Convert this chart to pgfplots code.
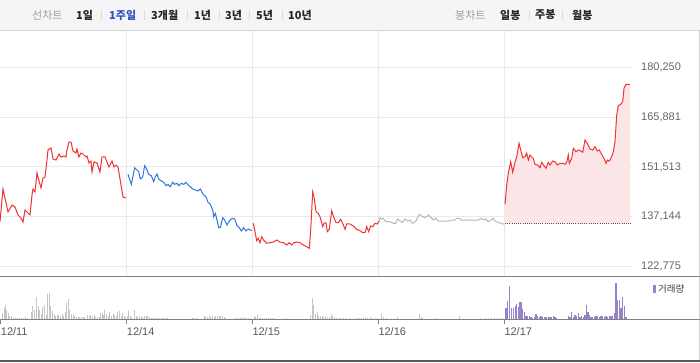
\documentclass[border=0pt]{standalone}
\usepackage{pgfplots}
\pgfplotsset{compat=1.18}
\usepackage{pgfplotstable}
\usepackage{fontspec}
\setmainfont{Liberation Sans}
\newfontfamily\kr{Noto Sans CJK KR}
\definecolor{upred}{RGB}{240,52,52}
\definecolor{downblue}{RGB}{46,118,222}
\definecolor{flatgray}{RGB}{184,184,184}
\definecolor{fillpink}{RGB}{252,229,231}
\definecolor{gridgray}{RGB}{234,234,234}
\definecolor{volgray}{RGB}{198,198,202}
\definecolor{volpurple}{RGB}{150,132,202}
\definecolor{barbg}{RGB}{245,245,247}
\definecolor{barline}{RGB}{208,208,213}
\definecolor{tabblue}{RGB}{44,82,190}
\definecolor{labelgray}{RGB}{102,102,102}
\definecolor{axisgray}{RGB}{130,130,130}
\definecolor{sepgray}{RGB}{220,220,224}

\pgfplotstableread{
x p
0 135670
3 145120
8 138480
12 140500
15 139920
18 137610
21 136740
23 135580
25 139050
28 138190
30 137610
32 143390
33 145120
35 144260
37 149750
38 148590
41 145410
43 148300
45 148590
47 153510
48 156400
51 156980
53 153800
56 153510
59 155240
61 154380
64 154660
66 154380
67 156400
69 158710
71 158710
73 156110
76 155530
77 156690
79 154380
81 155530
83 155240
86 154380
87 154660
89 152640
91 153220
92 150040
94 152930
97 152640
100 150040
102 154380
105 154380
107 152930
109 151480
112 153220
114 151480
116 152060
118 151480
121 146280
123 142810
126 142520
}\dayone

\pgfplotstableread{
x p
128 149370
131.3 146480
134.7 151280
137 150620
138.7 150130
140.3 148020
142.7 148680
144.7 151860
146.3 151110
148.7 149370
151.3 148970
153.7 147240
155.3 148680
157 149460
158.7 148020
161.3 147440
163.7 147060
166 146080
168 146480
170.3 145790
172.7 147060
174.7 146480
177 146770
178.7 146080
181.3 146770
183.7 146480
186 147060
188 146280
190.3 145790
192.7 145130
195.3 144840
198 144550
200.3 145130
202 144170
203.7 143390
206 142900
208 141280
210.3 140700
212.7 139050
213.7 137120
215.3 138100
217 136160
218.7 133940
220.3 133940
222.7 136830
224.7 136160
227 134720
229.3 135870
232 136660
234.7 136450
237 134510
239.3 133940
241.3 132980
243.7 133940
246 132980
248 133560
250.3 133270
252 133270
}\daytwo

\pgfplotstableread{
x p
253.3 135210
255 132780
256.7 130180
258.3 130870
260 129600
261.7 131330
264 130180
266.7 129430
270 129600
273.3 129800
276.7 130380
280 129800
283.3 129600
286.7 128930
289.3 129600
291.7 128930
294 129600
296.7 129800
300 129600
303.3 128930
306.7 128440
309.3 127980
310.7 133270
312.7 144340
314 142900
316 138560
318.3 138100
320 137120
322.7 134230
324 135210
326 135380
327.3 132780
329.3 133470
331.7 138850
333.3 137300
336 135380
338.3 135380
340.7 136360
342.7 135210
345 133470
346.7 135010
350 135010
353.3 134430
356.7 133470
360 133070
362.7 132490
365 132490
366.7 134230
368.7 132780
370.7 134430
372.7 134230
375 135210
377.3 135010
379.3 135960
}\daythree

\pgfplotstableread{
x p
379.3 135960
380 136830
381.7 136450
383.3 136660
385.7 135670
388.3 135670
391.7 135500
393.3 135210
395.7 135210
397.7 136450
400 135870
402.3 135500
405 136450
407.7 135870
410 136160
412.3 135210
414.3 135500
416.7 136160
419 137810
421.7 137410
424.3 136830
426.7 137120
428.3 137610
431 136830
433.3 136160
435.7 136660
438.3 135870
441.7 135870
445 135870
448.3 135870
451.7 136160
455 136160
456.7 136660
459 136660
461 136160
464.3 136160
468.3 136160
471.7 136160
475 136160
478.3 136160
481 136660
483.3 136160
485.7 136450
488.3 135670
491 136160
493.3 136660
495 135870
497.7 135500
501 135210
504.3 134920
}\dayfour

\pgfplotstableread{
x p
505 140700
506.7 146280
508.3 149660
510.7 153020
512.7 149950
515 152840
516.7 154460
519 158340
520.7 156400
522.7 154170
525 154460
526.7 155450
528.3 153510
530 154950
531.7 154460
533.3 154000
535 152270
537.3 152060
540 151280
541.7 152840
544 151860
546 151110
548.3 152840
550 152060
552.7 153220
555 153020
557.3 152060
560 152550
562.7 152550
565 152270
566.7 152840
568.3 154950
569.3 152550
571.7 154000
573.3 156890
576 155910
578.3 156400
580.7 156110
582.7 155730
585 159290
587.3 158340
590 156690
592.7 156400
595 157350
597.3 156110
599.3 156400
601.7 155160
604 154000
606 152550
607.3 153510
609.3 153220
611.7 154460
613.3 155910
615 158800
616.7 166520
618.3 169210
620.7 169610
622.7 170360
624 174240
626 175390
630 175390
}\dayfive

\pgfplotstableread{
x p
505 135150
505 140700
506.7 146280
508.3 149660
510.7 153020
512.7 149950
515 152840
516.7 154460
519 158340
520.7 156400
522.7 154170
525 154460
526.7 155450
528.3 153510
530 154950
531.7 154460
533.3 154000
535 152270
537.3 152060
540 151280
541.7 152840
544 151860
546 151110
548.3 152840
550 152060
552.7 153220
555 153020
557.3 152060
560 152550
562.7 152550
565 152270
566.7 152840
568.3 154950
569.3 152550
571.7 154000
573.3 156890
576 155910
578.3 156400
580.7 156110
582.7 155730
585 159290
587.3 158340
590 156690
592.7 156400
595 157350
597.3 156110
599.3 156400
601.7 155160
604 154000
606 152550
607.3 153510
609.3 153220
611.7 154460
613.3 155910
615 158800
616.7 166520
618.3 169210
620.7 169610
622.7 170360
624 174240
626 175390
630 175390
630 135150
}\dayfivefill

\pgfplotstableread{
x v
2.7 6
4 11
5.3 14.3
6.3 9.3
8 6
9.3 3.3
11 2.7
13 1.2
15 1
17 1.2
19 1
21 1.2
23 1
25 2
27 1
31.7 6.7
32.7 12.7
34.3 8.7
36.7 22
38 13.3
39.7 9.3
41.3 5.3
42.7 12
44.3 14.3
46 4.3
47.7 25.3
49.3 26
50.7 12.7
52.3 7.7
54 5.3
55.3 3.3
57 4
58.7 4.3
60.3 3.3
62 5.3
63.3 3.3
65 6.7
66.7 16
68.3 20.3
69.7 8.7
71.3 5.3
73 4.3
74.7 3.3
76.3 2.3
78 2.3
79.7 2
81.3 2.3
83 2
84.7 2.3
87.3 4.3
89 3.3
90.7 4.3
92.3 3.3
94 4.3
95.7 2
97.3 2.3
99 2
100.7 6
102 6
103.3 4.3
104.7 8.7
106.3 5.3
108 3.3
109.7 6.7
111.3 3.3
113.3 5.3
114.7 4.3
116 2.7
117.7 6.7
119.3 7.7
121 3.3
122.7 6
124 2.7
125.3 2
127 3.3
128.7 7.7
130 3.3
131.7 2
134.3 8.7
136 2.7
137.7 2
139.3 2.7
141 2
142.7 2
144.3 3.3
146 3.3
147.7 2.7
149.3 2
151 1
152.7 1.3
154.3 1
156 1
157.7 1.3
159.3 1
161 1
162.7 1
164.3 1
166 1
167.7 1
192 1
193.7 1
195.3 1
197 1
204 3.3
205.7 2
207.3 2
209 2.7
210.7 2
212.3 2.7
214 2
215.7 3.3
217.3 3.3
219 2.7
220.7 3.3
222.3 3.3
224 2
225.7 1
235 1
236.7 1
238.3 1
240 1
241.7 1
243.3 2
245 1
246.7 1
248.3 1
250 1
254 2.7
255.7 2
257.3 4.3
259 1
260.7 1
262.3 1
264 1
266 1
268 1
270 1
272 1
274 1
286 1
310 4.3
312 21
313.7 14.3
315.3 5.3
317 6.7
318.7 3.3
320.3 2.7
322 3.3
323.7 2
325.3 2.7
327 2
329 2
331 5.3
332.7 2.7
334.3 2
336 1
338 1
340 1
343.3 1
346 1
350 1
355 1
357 1
359 1
361 1
363 1
365 2
367 1
370 2
372 1
375 1
377 1
381.7 5.3
383.3 2
386 1
397.7 2
419.3 5.3
421 2
422.7 1
436.7 1
459.3 2.7
480 1
485 1
488 1
491 1
494 1
497 1
500 1
502 1
}\volgrayt

\pgfplotstableread{
x v
506 11
507.3 17.7
509.3 33.3
511.7 11
513.3 11
515.3 13.3
516.7 15.3
518.3 12
519.7 17.3
521 16.7
522.7 10
524.3 6.7
526 2.7
527.7 2.7
529.3 2.7
531 2
532.7 1
534.3 2
536 5.3
537.7 2.7
539.3 2
541 2.7
542.7 2
545 2
546.7 2
549 2
551 2
553.3 2.7
555 2
556.7 1
568.3 2.7
570 2
571.7 6.7
573.3 2
575 4.3
576.7 2.7
578.3 6
580 2
581.7 2.7
583.3 2
585 4.3
586.7 14.3
588 6.7
589.3 4.3
591 2
592.7 2
594.3 2
596 2.7
597.7 3.3
599.3 2
601 2.7
602.7 3.3
604.3 2
606 3.3
607.7 2
609.3 3.3
611 2.7
612.7 3.3
614.3 6
616 36
617.7 18.7
619.3 19.3
621 11
622.7 22
624.3 13.3
626 2
}\volpurplet

\begin{document}
\begin{tikzpicture}[x=1pt,y=1pt]
\path[use as bounding box, fill=white] (0pt,0pt) rectangle (700pt,362pt);
% top bar
\fill[barbg] (0pt,332pt) rectangle (700pt,362pt);
\draw[barline, line width=1pt] (0pt,331.5pt) -- (700pt,331.5pt);
\draw[barline, line width=1pt] (699.5pt,331.5pt) -- (699.5pt,2pt);
\begin{scope}[every node/.style={anchor=west, inner sep=0pt}]
\node[text=gray!75] at (32pt,347pt) {\kr\fontsize{11}{13}\selectfont 선차트};
\node[text=black!85] at (76pt,347pt) {\kr\bfseries\fontsize{11}{13}\selectfont 1일};
\node[text=tabblue] at (109pt,347pt) {\kr\bfseries\fontsize{11}{13}\selectfont 1주일};
\node[text=black!85] at (151pt,347pt) {\kr\bfseries\fontsize{11}{13}\selectfont 3개월};
\node[text=black!85] at (194pt,347pt) {\kr\bfseries\fontsize{11}{13}\selectfont 1년};
\node[text=black!85] at (225pt,347pt) {\kr\bfseries\fontsize{11}{13}\selectfont 3년};
\node[text=black!85] at (256pt,347pt) {\kr\bfseries\fontsize{11}{13}\selectfont 5년};
\node[text=black!85] at (288pt,347pt) {\kr\bfseries\fontsize{11}{13}\selectfont 10년};
\node[text=gray!75] at (455pt,347pt) {\kr\fontsize{11}{13}\selectfont 봉차트};
\node[text=black!85] at (500pt,347pt) {\kr\bfseries\fontsize{11}{13}\selectfont 일봉};
\node[text=black!85] at (535pt,347pt) {\kr\bfseries\fontsize{11}{13}\selectfont 주봉};
\node[text=black!85] at (572pt,347pt) {\kr\bfseries\fontsize{11}{13}\selectfont 월봉};
\end{scope}
\foreach \s in {101,144,187,219,249,282,529,562}{
  \draw[sepgray, line width=0.8pt] (\s pt,342pt) -- (\s pt,352pt);
}

% price panel
\begin{axis}[at={(0pt,86pt)}, anchor=south west, scale only axis,
  width=632pt, height=245pt,
  xmin=0, xmax=632, ymin=119972, ymax=190802,
  axis line style={draw=none},
  scaled x ticks=false, scaled y ticks=false,
  xtick={126.7,252.3,378.3,504.3}, xticklabels={,,,},
  ytick={122775,137144,151513,165881,180250},
  yticklabels={{122,775},{137,144},{151,513},{165,881},{180,250}},
  xmajorgrids, ymajorgrids,
  grid style={gridgray, line width=0.9pt},
  major tick length=0pt,
  yticklabel pos=right,
  yticklabel style={anchor=west, inner sep=0pt, xshift=9pt, text=labelgray, font=\fontsize{11}{13}\selectfont},
  clip=false]
\addplot[fill=fillpink, draw=none] table[x=x, y=p] {\dayfivefill} -- cycle;
\addplot[draw=black!65, line width=0.8pt, dash pattern=on 1pt off 1.2pt] coordinates {(505,135150) (632,135150)};
\addplot[upred, line width=1pt, mark=none] table[x=x, y=p] {\dayone};
\addplot[downblue, line width=1pt, mark=none] table[x=x, y=p] {\daytwo};
\addplot[upred, line width=1pt, mark=none] table[x=x, y=p] {\daythree};
\addplot[flatgray, line width=1pt, mark=none] table[x=x, y=p] {\dayfour};
\addplot[upred, line width=1pt, mark=none] table[x=x, y=p] {\dayfive};
\end{axis}

% volume panel
\begin{axis}[at={(0pt,43pt)}, anchor=south west, scale only axis,
  width=700pt, height=43pt,
  xmin=0, xmax=700, ymin=0, ymax=43,
  axis line style={draw=none},
  scaled x ticks=false, scaled y ticks=false,
  ytick=\empty,
  xtick={0.7,126.7,252.3,378.3,504.3},
  xticklabels={12/11,12/14,12/15,12/16,12/17},
  xtick pos=bottom, tick align=outside, major tick length=5pt,
  xtick style={draw=axisgray, line width=1pt},
  xticklabel style={anchor=north west, inner sep=0pt, yshift=-3pt, text=black!65, font=\fontsize{11}{13}\selectfont},
  clip=false]
\addplot[ycomb, volgray, line width=1pt, mark=none] table[x=x, y=v] {\volgrayt};
\addplot[ycomb, volpurple, line width=1.1pt, mark=none] table[x=x, y=v] {\volpurplet};
\end{axis}
\draw[axisgray, line width=1pt] (0pt,86pt) -- (700pt,86pt);
\draw[axisgray, line width=1pt] (0pt,43pt) -- (700pt,43pt);
\fill[black!65] (0pt,0pt) rectangle (700pt,2.5pt);
% volume legend
\fill[volpurple] (653pt,69pt) rectangle (656pt,77pt);
\node[anchor=west, inner sep=0pt, text=black!75] at (658pt,73pt) {\kr\fontsize{9.5}{11}\selectfont 거래량};
\end{tikzpicture}
\end{document}
